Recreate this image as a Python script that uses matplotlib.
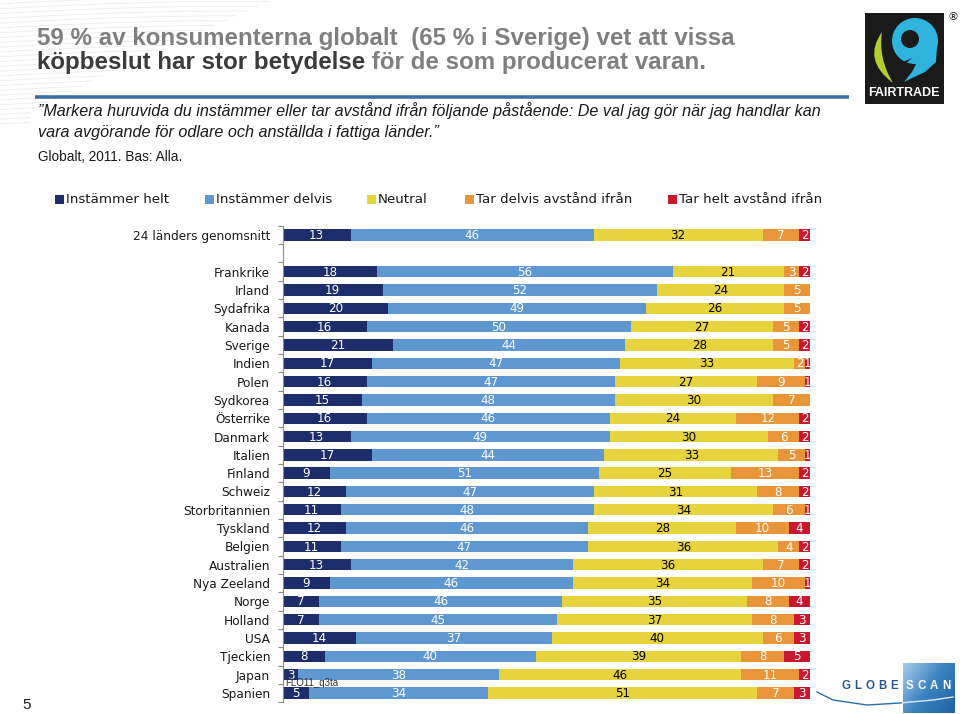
import matplotlib
matplotlib.use("Agg")
import matplotlib.pyplot as plt
import numpy as np
from matplotlib.patches import Rectangle, Circle, PathPatch
from matplotlib.path import Path

# ---------------- data ----------------
categories = ["24 länders genomsnitt", "",
              "Frankrike", "Irland", "Sydafrika", "Kanada", "Sverige", "Indien",
              "Polen", "Sydkorea", "Österrike", "Danmark", "Italien", "Finland",
              "Schweiz", "Storbritannien", "Tyskland", "Belgien", "Australien",
              "Nya Zeeland", "Norge", "Holland", "USA", "Tjeckien", "Japan", "Spanien"]
series_names = ["Instämmer helt", "Instämmer delvis", "Neutral",
                "Tar delvis avstånd ifrån", "Tar helt avstånd ifrån"]
helt   = [13, 0, 18, 19, 20, 16, 21, 17, 16, 15, 16, 13, 17, 9, 12, 11, 12, 11, 13, 9, 7, 7, 14, 8, 3, 5]
delvis = [46, 0, 56, 52, 49, 50, 44, 47, 47, 48, 46, 49, 44, 51, 47, 48, 46, 47, 42, 46, 46, 45, 37, 40, 38, 34]
neutral= [32, 0, 21, 24, 26, 27, 28, 33, 27, 30, 24, 30, 33, 25, 31, 34, 28, 36, 36, 34, 35, 37, 40, 39, 46, 51]
tar_delvis = [7, 0, 3, 5, 5, 5, 5, 2, 9, 7, 12, 6, 5, 13, 8, 6, 10, 4, 7, 10, 8, 8, 6, 8, 11, 7]
tar_helt   = [2, 0, 2, 0, 0, 2, 2, 1, 1, 0, 2, 2, 1, 2, 2, 1, 4, 2, 2, 1, 4, 3, 3, 5, 2, 3]

colors = ["#1D2C6B", "#5F97D1", "#E6D33D", "#E9953A", "#C8172F"]
label_colors = ["white", "white", "black", "white", "white"]

W, H = 960, 714
fig = plt.figure(figsize=(W / 100, H / 100), dpi=100)

def px_axes(x0, y0, x1, y1):
    return fig.add_axes([x0 / W, 1 - y1 / H, (x1 - x0) / W, (y1 - y0) / H])

# ---------------- overlay (pixel coords) ----------------
ov = fig.add_axes([0, 0, 1, 1], zorder=0)
ov.set_xlim(0, W)
ov.set_ylim(H, 0)
ov.axis("off")

# faint decorative lines top-left
for i in range(26):
    y0 = 4 + i * 4.8
    length = max(30, 280 - i * 11)
    xs_ = np.linspace(0, length, 30)
    ys_ = y0 - 0.06 * xs_ + 0.00012 * xs_ ** 2
    ov.plot(xs_, ys_, color="#EEEEEE", lw=0.7, zorder=0)

# title
fp_title = dict(family="Liberation Sans", weight="bold", fontsize=17.4)
ov.text(37, 38, "59 % av konsumenterna globalt  (65 % i Sverige) vet att vissa",
        color="#7F7F7F", va="center", ha="left", **fp_title)
t_dark = ov.text(37, 63, "köpbeslut har stor betydelse", color="#3B3B3B",
                 va="center", ha="left", **fp_title)
fig.canvas.draw()
r = fig.canvas.get_renderer()
bb = t_dark.get_window_extent(renderer=r)
ov.text(bb.x1, 63, " för de som producerat varan.", color="#7F7F7F",
        va="center", ha="left", **fp_title)

# blue line
ov.plot([35, 849], [97, 97], color="#3D6FA6", lw=2.6, solid_capstyle="butt")

fp_sub = dict(family="Liberation Sans", style="italic", fontsize=11.65, color="#1A1A1A")
ov.text(38, 111, "\u201dMarkera huruvida du instämmer eller tar avstånd ifrån följande påstående: De val jag gör när jag handlar kan",
        va="center", ha="left", **fp_sub)
ov.text(38, 133, "vara avgörande för odlare och anställda i fattiga länder.\u201d",
        va="center", ha="left", **fp_sub)
ov.text(38, 157, "Globalt, 2011. Bas: Alla.", family="Liberation Sans", fontsize=9.8,
        color="#1A1A1A", va="center", ha="left")

# legend
leg_x = [55, 205, 367, 465, 668]
for lx, c, name in zip(leg_x, colors, series_names):
    ov.add_patch(Rectangle((lx, 194.5), 9, 9, color=c, lw=0))
    ov.text(lx + 11, 199.5, name, family="DejaVu Sans", fontsize=9.6, color="#1A1A1A",
            va="center", ha="left")

# Fairtrade logo
ov.add_patch(Rectangle((865, 13), 79, 91, color="#1A1A1A", lw=0))
ov.add_patch(Circle((915, 41), 23, color="#2FB4DF", lw=0))
tail = Path([(937, 45), (936, 62), (925, 72), (912, 78), (904, 82),
             (912, 72), (916, 64), (912, 58), (905, 58), (937, 45)],
            [Path.MOVETO, Path.LINETO, Path.LINETO, Path.LINETO, Path.LINETO,
             Path.LINETO, Path.LINETO, Path.LINETO, Path.LINETO, Path.CLOSEPOLY])
ov.add_patch(PathPatch(tail, color="#2FB4DF", lw=0))
cut = Path([(891, 48), (893, 60), (903, 62), (912, 58), (905, 64), (892, 68), (891, 48)],
           [Path.MOVETO, Path.LINETO, Path.LINETO, Path.LINETO, Path.LINETO, Path.LINETO, Path.CLOSEPOLY])
ov.add_patch(PathPatch(cut, color="#1A1A1A", lw=0))
ov.add_patch(Circle((910, 39), 9, color="#1A1A1A", lw=0))
green = Path([(882, 32), (862, 60), (893, 83), (878, 58), (882, 32)],
             [Path.MOVETO, Path.CURVE3, Path.CURVE3, Path.CURVE3, Path.CURVE3])
ov.add_patch(PathPatch(green, color="#B5CD2E", lw=0))
ov.text(904, 93.5, "FAIRTRADE", family="Liberation Sans", weight="bold", fontsize=9.0,
        color="white", ha="center", va="center")
ov.text(953, 17, "®", family="DejaVu Sans", fontsize=8, color="#1A1A1A", ha="center", va="center")

# Globescan logo
gx = np.linspace(0, 1, 64)
gy = np.linspace(0, 1, 64)
GX, GY = np.meshgrid(gx, gy)
gcmap = matplotlib.colors.LinearSegmentedColormap.from_list("g", ["#A9CDEB", "#3B82C0", "#1E62A8"])
ov.imshow(0.6 * GX + 0.4 * GY, cmap=gcmap, extent=(903, 955, 713, 663), aspect="auto", zorder=1)
ov.set_xlim(0, W)
ov.set_ylim(H, 0)
letters = "GLOBESCAN"
lxs = [846, 858, 870, 882, 894, 910, 922, 934, 946]
for i, (ch, x) in enumerate(zip(letters, lxs)):
    ov.text(x, 686, ch, family="Liberation Sans", weight="bold", fontsize=8.3,
            color="#24588F" if i < 5 else "white", ha="center", va="center", zorder=2)
cxs = np.array([817, 833, 867, 900, 933, 953])
cys = np.array([692, 700, 705, 703, 700, 697])
xx = np.linspace(817, 953, 80)
yy = np.interp(xx, cxs, cys)
m = xx <= 903
ov.plot(xx[m], yy[m], color="#2E6DA4", lw=1.0, zorder=2)
ov.plot(xx[~m], yy[~m], color="#DDEBF7", lw=1.0, zorder=2)

# slide number
ov.text(27, 705, "5", family="Liberation Sans", fontsize=11, color="#1A1A1A", ha="center", va="center")

# ---------------- main chart ----------------
ax = px_axes(282.5, 225.8, 810, 702.2)
ax.set_zorder(3)
ax.patch.set_alpha(0)
y = np.arange(len(categories))
series = [helt, delvis, neutral, tar_delvis, tar_helt]
left = np.zeros(len(categories))
for vals, c, lc in zip(series, colors, label_colors):
    vals = np.array(vals, dtype=float)
    ax.barh(y, vals, left=left, height=0.62, color=c, lw=0)
    for yi, (l, v) in enumerate(zip(left, vals)):
        if v > 0:
            ax.text(l + v / 2, yi + 0.03, f"{int(v)}", ha="center", va="center",
                    family="DejaVu Sans", fontsize=8.6, color=lc)
    left += vals

ax.set_xlim(0, 100)
ax.set_ylim(len(categories) - 0.5, -0.5)
ax.set_xticks([])
ax.set_yticks(y)
ax.set_yticklabels(categories, family="DejaVu Sans", fontsize=8.7, color="#1A1A1A")
ax.tick_params(axis="y", which="major", length=0, pad=9)
ax.set_yticks(np.arange(-0.5, len(categories), 1), minor=True)
ax.tick_params(axis="y", which="minor", length=3.5, color="#8C8C8C", width=0.8)
for s in ["top", "right", "bottom"]:
    ax.spines[s].set_visible(False)
ax.spines["left"].set_color("#8C8C8C")
ax.spines["left"].set_linewidth(0.8)

ax.text(0.5, 24.45, "FLO11_q3ta", family="Liberation Sans", fontsize=7, color="#333333",
        ha="left", va="center", zorder=5)

fig.savefig("out.png", dpi=100)
